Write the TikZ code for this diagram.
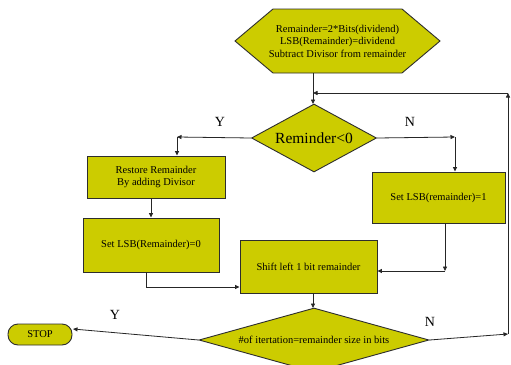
\documentclass[tikz,border=0pt]{standalone}
\usepackage{fontspec}
\setmainfont{Liberation Serif}
\usetikzlibrary{shapes.geometric,arrows.meta}
\definecolor{boxfill}{RGB}{204,204,0}
\definecolor{edgecol}{RGB}{45,45,45}
\tikzset{
  block/.style={draw=edgecol,line width=0.9pt,fill=boxfill,rectangle,inner sep=0pt,align=center,font=\fontsize{10.5}{12.5}\selectfont},
  decision/.style={draw=edgecol,line width=0.9pt,fill=boxfill,diamond,inner sep=0pt,align=center},
  conn/.style={draw=black!85,line width=0.8pt},
  arr/.style={conn,-{Triangle[length=4.5pt,width=4pt]}},
  lbl/.style={font=\fontsize{14}{16}\selectfont,inner sep=0pt}
}
\begin{document}
\begin{tikzpicture}[x=1pt,y=-1pt]
\clip (0,0) rectangle (511,364);
\fill[white] (0,0) rectangle (511,364);
% hexagon start
\draw[edgecol,line width=0.9pt,fill=boxfill] (235,41) -- (273,9) -- (402,9) -- (440,41) -- (402,73) -- (273,73) -- cycle;
\node[inner sep=0pt,minimum width=205pt,minimum height=64pt,align=center,font=\fontsize{10.5}{12.5}\selectfont] (hex) at (337.5,41)
  {Remainder=2*Bits(dividend)\\LSB(Remainder)=dividend\\Subtract Divisor from remainder};
% decision 1
\node[decision,minimum width=125pt,minimum height=68pt,aspect=1.84,font=\fontsize{15.5}{18}\selectfont] (d1) at (314,138) {Reminder<0};
% boxes
\node[block,minimum width=138pt,minimum height=42pt] (restore) at (156,177) {Restore Remainder\\By adding Divisor};
\node[block,minimum width=136pt,minimum height=54pt] (set0) at (151,245) {Set LSB(Remainder)=0};
\node[block,minimum width=133pt,minimum height=51pt] (set1) at (438.5,197.5) {Set LSB(remainder)=1};
\node[block,minimum width=137pt,minimum height=53pt] (shift) at (308.5,266.5) {Shift left 1 bit remainder};
% decision 2
\node[decision,minimum width=230pt,minimum height=64pt,aspect=3.6,font=\fontsize{10.5}{12.5}\selectfont] (d2) at (314,340) {\#of itertation=remainder size in bits};
% stop
\node[block,rounded corners=10pt,minimum width=64pt,minimum height=21pt] (stop) at (40,334.5) {STOP};
% coordinates
\coordinate (hb) at (313,73);
\coordinate (dtop) at (313,104);
\coordinate (loopjoin) at (313,93);
\coordinate (yl) at (177,137);
\coordinate (nr) at (455,137);
\coordinate (r0) at (151,198);
\coordinate (s0a) at (146,272);
\coordinate (s0b) at (146,287);
\coordinate (s1a) at (445,223);
\coordinate (s1b) at (445,271);
\coordinate (shb) at (313,293);
\coordinate (d2top) at (313,308);
\coordinate (stopin) at (73,329);
\coordinate (rb) at (508,334);
\coordinate (rt) at (508,93);
% connectors
\draw[arr] (hb) -- (dtop);
\draw[arr] (d1.west) -- (yl);
\draw[arr] (yl) -- (yl |- restore.north);
\draw[arr] (d1.east) -- (nr);
\draw[arr] (nr) -- (nr |- set1.north);
\draw[arr] (r0) -- (r0 |- set0.north);
\draw[conn] (s0a) -- (s0b);
\draw[arr] (s0b) -- (s0b -| shift.west);
\draw[arr] (s1a) -- (s1b);
\draw[arr] (s1b) -- (s1b -| shift.east);
\draw[arr] (shb) -- (d2top);
\draw[arr] (d2.west) -- (stopin);
\draw[arr] (d2.east) -- (rb);
\draw[arr] (rb) -- (rt);
\draw[arr] (rt) -- (loopjoin);
% labels
\node[lbl] (ly1) at (220,122) {Y};
\node[lbl] (ln1) at (410,122) {N};
\node[lbl] (ly2) at (115,315) {Y};
\node[lbl] (ln2) at (430,322) {N};
\end{tikzpicture}
\end{document}
